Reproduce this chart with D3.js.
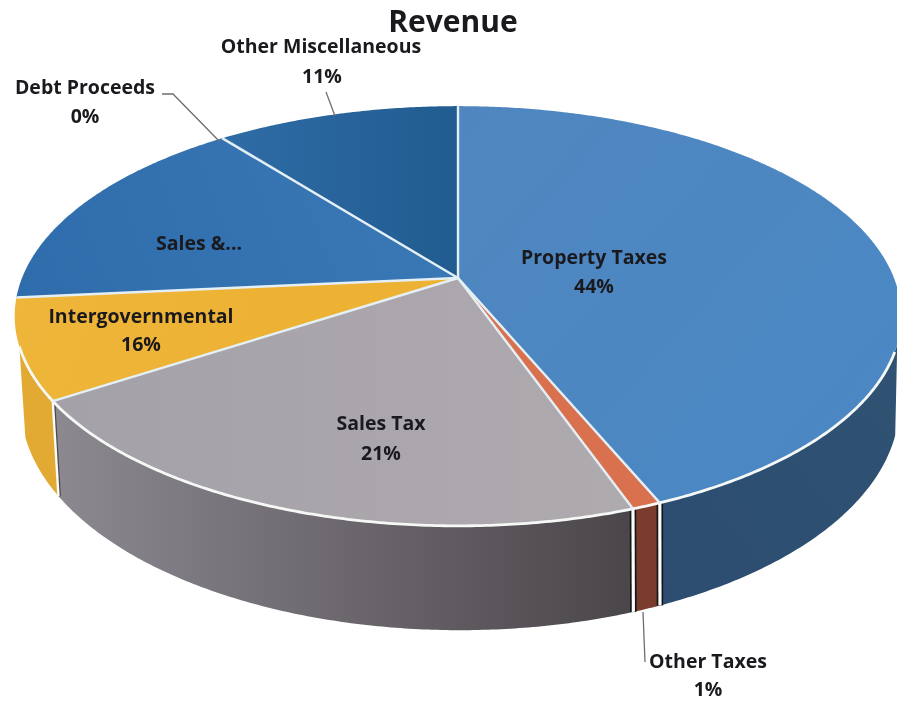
<!DOCTYPE html>
<html><head><meta charset="utf-8">
<style>html,body{margin:0;padding:0;background:#fff;overflow:hidden}svg{display:block;filter:blur(0.45px)}text{font-family:"Open Sans",sans-serif;font-weight:700;fill:#1a1a1e;text-anchor:middle}</style>
<script src="https://cdn.jsdelivr.net/npm/d3@7/dist/d3.min.js"></script>
</head><body><svg id="c" width="897" height="702"></svg>
<script>
// Data
const chartTitle = "Revenue";
const categories = ["Property Taxes","Other Taxes","Sales Tax","Intergovernmental","Sales &...","Debt Proceeds","Other Miscellaneous"];
// geometric share of each wedge as drawn (percent of the disc)
const drawnShares = [43.7,0.9,21.2,7.7,15.9,0.1,10.5];
const percentLabels = ["44%","1%","21%","16%","","0%","11%"];

// Styling
const topColors = [["#4f86bf","#4a88c4"],["#d9704e","#d9704e"],["#a5a1a9","#aeaaae"],["#eeb63a","#edb234"],["#2f6cab","#3a78b6"],["#3a76b0","#3a76b0"],["#2f6ca6","#215c90"]];
const wallColors = [["#2c4d70","#2f5172"],["#7a3c2c","#7a3c2c"],["#8c8890","#4a464a"],["#e2aa32","#e2aa32"],null,null,null];
const labelLayout = [[594,264,594,293],[708,668,708,695.5],[381,430,381,460],[141,323,141,351],[199,250],[85,94,85,123],[321,53,322,83]];
const leaders = [[[162,94],[173,94],[220,142]],[[326,92],[335,116]],[[643,612],[645,662]]];

const svg = d3.select("#c");
const deg = Math.PI/180;
const k = 0.181;
const topRim = {cx:458, y0:278, R:436, S:203};
const botRim = {cx:460, y0:364, R:432, S:218};
function project(rim, a){
  const u = Math.sin(a), v = Math.cos(a), w = 1 + k*v;
  return [rim.cx + rim.R*u/w, rim.y0 - rim.S*v/w];
}
const pie = d3.pie().sort(null).value(d=>d);
const arcs = pie(drawnShares);
const line = d3.line();
const samples = (a0,a1)=>{const n=Math.max(2,Math.ceil(Math.abs(a1-a0)/(0.5*deg)));return d3.range(n+1).map(i=>a0+(a1-a0)*i/n);};

const defs = svg.append("defs");
function grad(id,c,x1,y1,x2,y2){
  const g = defs.append("linearGradient").attr("id",id).attr("gradientUnits","userSpaceOnUse")
    .attr("x1",x1).attr("y1",y1).attr("x2",x2).attr("y2",y2);
  g.append("stop").attr("offset",0).attr("stop-color",c[0]);
  g.append("stop").attr("offset",1).attr("stop-color",c[1]);
  return `url(#${id})`;
}
const topGeo = [[460,110,900,500],[640,500,640,510],[60,500,640,500],[15,300,250,380],[20,300,450,140],[220,140,220,141],[220,150,458,150]];
const wallGeo = [[660,600,897,400],[640,520,640,600],[60,500,630,500],[20,350,60,500]];

// Side walls
const wallLimits = [108*deg, 251.5*deg];
const walls = svg.append("g");
arcs.forEach((d,i)=>{
  if(!wallColors[i]) return;
  const a0 = Math.max(d.startAngle,wallLimits[0]), a1 = Math.min(d.endAngle,wallLimits[1]);
  if(a1<=a0) return;
  const s = samples(a0,a1);
  const pts = s.map(a=>project(topRim,a)).concat(s.slice().reverse().map(a=>project(botRim,a)));
  walls.append("path").attr("d",line(pts)+"Z")
    .attr("fill",grad("w"+i,wallColors[i],...wallGeo[i]));
});
// wall separators: white with dark shadow on both sides at the orange wedge
arcs.forEach((d,i)=>{
  const a=d.endAngle;
  if(a<wallLimits[0]||a>wallLimits[1]) return;
  const p=[project(topRim,a),project(botRim,a)];
  if(i<2){
    walls.append("path").attr("d",line(p)).attr("stroke","#15151c").attr("stroke-width",6.5);
  } else {
    walls.append("path").attr("d",line(p.map(q=>[q[0]+1.5,q[1]]))).attr("stroke","#4e4a50").attr("stroke-width",2);
  }
  walls.append("path").attr("d",line(p)).attr("stroke","#fbfbf8").attr("stroke-width",i<2?3.2:2.4);
});
// Top face
const tops = svg.append("g");
arcs.forEach((d,i)=>{
  const s = samples(d.startAngle,d.endAngle);
  const pts = [[topRim.cx,topRim.y0]].concat(s.map(a=>project(topRim,a)));
  tops.append("path").attr("d",line(pts)+"Z").attr("fill",grad("t"+i,topColors[i],...topGeo[i]));
});
// Rim highlight on the visible edge
const rimS = samples(wallLimits[0]+2*deg,wallLimits[1]);
tops.append("path").attr("d",line(rimS.map(a=>project(topRim,a)))).attr("fill","none").attr("stroke","#f6f8f6").attr("stroke-width",2.8);
// Slice separators
arcs.forEach((d,i)=>{
  if(categories[i]==="Debt Proceeds") return;
  const p=[[topRim.cx,topRim.y0],project(topRim,d.endAngle)];
  tops.append("path").attr("d",line(p)).attr("stroke","#e4f0f6").attr("stroke-width",2.4);
});
// Leader lines
leaders.forEach(l=>svg.append("path").attr("d",line(l)).attr("fill","none").attr("stroke","#6e6e6e").attr("stroke-width",1.3));
// Labels
const labelSize = 19.5;
categories.forEach((c,i)=>{
  const p=labelLayout[i];
  svg.append("text").attr("x",p[0]).attr("y",p[1]).attr("font-size",labelSize).text(c);
  if(percentLabels[i]) svg.append("text").attr("x",p[2]).attr("y",p[3]).attr("font-size",labelSize).text(percentLabels[i]);
});
svg.append("text").attr("x",453).attr("y",32).attr("font-size",30).text(chartTitle);
</script></body></html>
